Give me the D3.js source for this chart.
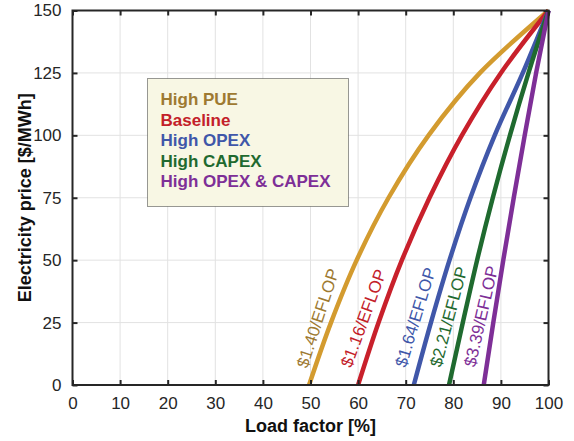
<!DOCTYPE html>
<html>
<head>
<meta charset="utf-8">
<script src="https://cdn.jsdelivr.net/npm/d3@7"></script>
<style>
  body { margin: 0; background: #fff; }
  text { font-family: "Liberation Sans", Arial, Helvetica, sans-serif; }
</style>
</head>
<body>
<div id="chart"></div>
<script>
// Price levels ($/MWh) at which the load factor of each curve was read
const priceLevels = [0, 25, 50, 75, 100, 125, 150];

// Load factor (%) of each scenario at those price levels
const highPUE   = [49.7, 54.3, 59.7, 66.4, 74.8, 85.6, 100];
const baseline  = [60.0, 64.3, 69.2, 75.0, 81.8, 90.0, 100];
const highOPEX  = [71.7, 75.3, 79.2, 83.6, 88.7, 94.6, 100];
const highCAPEX = [79.1, 82.0, 85.0, 88.3, 91.9, 95.8, 100];
const highBoth  = [86.4, 88.4, 90.5, 92.7, 95.0, 97.4, 100];

const seriesNames = ["High PUE", "Baseline", "High OPEX", "High CAPEX", "High OPEX & CAPEX"];
const costLabels = ["$1.40/EFLOP", "$1.16/EFLOP", "$1.64/EFLOP", "$2.21/EFLOP", "$3.39/EFLOP"];
// label anchor positions in data units (load factor, price) and angle
const labelLF = [51.6, 61.2, 72.1, 79.1, 85.9];
const labelP = [26.7, 26.7, 27.1, 27.3, 27.5];
const labelAngle = [-72, -70, -73, -75, -77];

const xTicks = d3.range(0, 101, 10);
const yTicks = d3.range(0, 151, 25);

const lineColors = ["#D39B2F", "#C8202B", "#4057A9", "#1F6A2F", "#7E2F97"];
const textColors = ["#9E7A31", "#C32029", "#4057A9", "#1F6A2F", "#7E2F97"];

const W = 574, H = 441;
const margin = { left: 72.5, top: 10.5, right: 25.5, bottom: 56 };

const svg = d3.select("#chart").append("svg")
  .attr("width", W)
  .attr("height", H);

const x = d3.scaleLinear().domain([0, 100]).range([margin.left, W - margin.right]);
const y = d3.scaleLinear().domain([0, 150]).range([H - margin.bottom, margin.top]);

// grid
svg.append("g").selectAll("line.vx")
  .data(xTicks.slice(1, -1)).enter().append("line")
  .attr("x1", d => x(d)).attr("x2", d => x(d))
  .attr("y1", y(0)).attr("y2", y(150))
  .attr("stroke", "#e2e2e2").attr("stroke-width", 1);
svg.append("g").selectAll("line.hy")
  .data(yTicks.slice(1, -1)).enter().append("line")
  .attr("x1", x(0)).attr("x2", x(100))
  .attr("y1", d => y(d)).attr("y2", d => y(d))
  .attr("stroke", "#e2e2e2").attr("stroke-width", 1);

// legend box
const legend = svg.append("g");
legend.append("rect")
  .attr("x", 147.5).attr("y", 78.5)
  .attr("width", 201).attr("height", 128)
  .attr("fill", "#F8F7E4")
  .attr("stroke", "#333").attr("stroke-width", 1)
  .attr("stroke-dasharray", "1,1");
legend.selectAll("text")
  .data(seriesNames).enter().append("text")
  .attr("x", 160.5)
  .attr("y", (d, i) => 105 + i * 20.5)
  .attr("fill", (d, i) => textColors[i])
  .attr("font-size", "17px")
  .attr("font-weight", "bold")
  .text(d => d);

// curves
const allSeries = [highPUE, baseline, highOPEX, highCAPEX, highBoth];
const line = d3.line()
  .x(d => x(d[0]))
  .y(d => y(d[1]))
  .curve(d3.curveMonotoneY);

allSeries.forEach((s, i) => {
  const pts = s.map((lf, k) => [lf, priceLevels[k]]).reverse();
  svg.append("path")
    .datum(pts)
    .attr("d", line)
    .attr("fill", "none")
    .attr("stroke", lineColors[i])
    .attr("stroke-width", 4.5)
    .attr("stroke-linejoin", "round");
});

// cost labels
svg.append("g").selectAll("text")
  .data(costLabels).enter().append("text")
  .attr("transform", (d, i) => `translate(${x(labelLF[i])},${y(labelP[i])}) rotate(${labelAngle[i]})`)
  .attr("text-anchor", "middle")
  .attr("dominant-baseline", "central")
  .attr("fill", (d, i) => textColors[i])
  .attr("font-size", "17px")
  .text(d => d);

// axes box
const axisColor = "#262626";
svg.append("rect")
  .attr("x", x(0)).attr("y", y(150))
  .attr("width", x(100) - x(0)).attr("height", y(0) - y(150))
  .attr("fill", "none").attr("stroke", axisColor).attr("stroke-width", 2);

const bottomAxis = d3.axisBottom(x).tickValues(xTicks).tickSize(-5).tickPadding(12);
const topAxis = d3.axisTop(x).tickValues(xTicks).tickSize(-5).tickFormat("");
const leftAxis = d3.axisLeft(y).tickValues(yTicks).tickSize(-5).tickPadding(11);
const rightAxis = d3.axisRight(y).tickValues(yTicks).tickSize(-5).tickFormat("");

function styleAxis(g) {
  g.select(".domain").remove();
  g.selectAll(".tick line").attr("stroke", axisColor).attr("stroke-width", 2);
  g.selectAll(".tick text")
    .attr("fill", axisColor)
    .attr("font-size", "17px")
    .attr("font-family", "'Liberation Sans', Arial, Helvetica, sans-serif");
}

svg.append("g").attr("transform", `translate(0,${y(0)})`).call(bottomAxis).call(styleAxis);
svg.append("g").attr("transform", `translate(0,${y(150)})`).call(topAxis).call(styleAxis);
svg.append("g").attr("transform", `translate(${x(0)},0)`).call(leftAxis).call(styleAxis);
svg.append("g").attr("transform", `translate(${x(100)},0)`).call(rightAxis).call(styleAxis);

// axis titles
svg.append("text")
  .attr("x", (x(0) + x(100)) / 2)
  .attr("y", 432)
  .attr("text-anchor", "middle")
  .attr("font-size", "18px")
  .attr("font-weight", "bold")
  .attr("fill", "#111")
  .text("Load factor [%]");

svg.append("text")
  .attr("transform", `translate(31,${(y(0) + y(150)) / 2}) rotate(-90)`)
  .attr("text-anchor", "middle")
  .attr("font-size", "18px")
  .attr("font-weight", "bold")
  .attr("fill", "#111")
  .text("Electricity price [$/MWh]");
</script>
</body>
</html>
